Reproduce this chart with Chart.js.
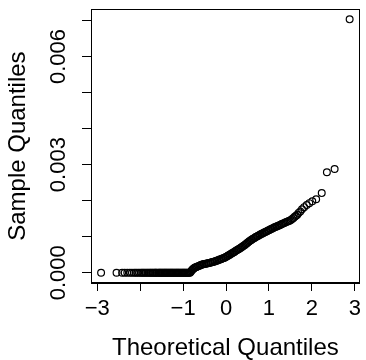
<!DOCTYPE html>
<html>
<head>
<meta charset="utf-8">
<script src="https://cdn.jsdelivr.net/npm/chart.js@4.4.0/dist/chart.umd.min.js"></script>
<style>
  html, body { margin: 0; padding: 0; background: #ffffff; }
  #wrap { width: 366px; height: 360px; position: relative; }
</style>
</head>
<body>
<div id="wrap"><canvas id="c" width="366" height="360"></canvas></div>
<script>
// Theoretical quantiles (x) and sample quantiles (y)
const theoretical = [
  -2.91, -2.55, -2.42, -2.36, -2.30, -2.24, -2.19, -2.14, -2.10, -2.06,
  -2.02, -1.98, -1.95, -1.92, -1.89, -1.86, -1.83, -1.80, -1.77, -1.75,
  -1.72, -1.70, -1.67, -1.65, -1.63, -1.61, -1.58, -1.56, -1.54, -1.52,
  -1.50, -1.48, -1.46, -1.44, -1.42, -1.40, -1.38, -1.36, -1.34, -1.32,
  -1.30, -1.28, -1.26, -1.24, -1.22, -1.20, -1.18, -1.16, -1.14, -1.12,
  -1.10, -1.08, -1.06, -1.04, -1.02, -1.00, -0.98, -0.96, -0.94, -0.92,
  -0.90, -0.88, -0.86, -0.84, -0.82, -0.80, -0.78, -0.76, -0.74, -0.72,
  -0.70, -0.68, -0.65, -0.62, -0.60, -0.57, -0.55, -0.52, -0.50, -0.47,
  -0.45, -0.42, -0.40, -0.37, -0.35, -0.32, -0.30, -0.27, -0.25, -0.22,
  -0.20, -0.17, -0.15, -0.12, -0.10, -0.07, -0.05, -0.02, 0.00, 0.03,
  0.05, 0.08, 0.10, 0.13, 0.15, 0.18, 0.20, 0.23, 0.25, 0.28,
  0.30, 0.33, 0.35, 0.38, 0.40, 0.43, 0.45, 0.48, 0.50, 0.53,
  0.55, 0.58, 0.60, 0.63, 0.65, 0.68, 0.70, 0.73, 0.75, 0.78,
  0.80, 0.83, 0.85, 0.88, 0.90, 0.93, 0.95, 0.98, 1.00, 1.03,
  1.05, 1.08, 1.10, 1.13, 1.15, 1.18, 1.20, 1.23, 1.25, 1.28,
  1.30, 1.33, 1.36, 1.39, 1.42, 1.45, 1.48, 1.51, 1.54, 1.57,
  1.60, 1.63, 1.66, 1.69, 1.73, 1.77, 1.82, 1.88, 1.94, 2.01,
  2.10, 2.23, 2.35, 2.53, 2.88
];
const sample = [
  0, 0, 0, 0, 0, 0, 0, 0, 0, 0,
  0, 0, 0, 0, 0, 0, 0, 0, 0, 0,
  0, 0, 0, 0, 0, 0, 0, 0, 0, 0,
  0, 0, 0, 0, 0, 0, 0, 0, 0, 0,
  0, 0, 0, 0, 0, 0, 0, 0, 0, 0,
  0, 0, 0, 0, 0, 0, 0, 0, 0, 0,
  0, 0, 0, 0, 0.00003, 0.00006, 0.00009, 0.00011, 0.00013, 0.000145,
  0.000155, 0.000165, 0.00018, 0.000195, 0.000205, 0.00022, 0.00023, 0.00024, 0.000245, 0.00025,
  0.000255, 0.000265, 0.00027, 0.00028, 0.000285, 0.000295, 0.0003, 0.00031, 0.00032, 0.00033,
  0.00034, 0.000355, 0.000365, 0.000375, 0.000385, 0.0004, 0.00041, 0.000425, 0.00044, 0.00046,
  0.000475, 0.000495, 0.00051, 0.000535, 0.00055, 0.00057, 0.000585, 0.00061, 0.000625, 0.000645,
  0.00066, 0.00068, 0.0007, 0.00072, 0.00074, 0.000765, 0.000785, 0.00081, 0.00083, 0.00086,
  0.00088, 0.0009, 0.00092, 0.000945, 0.00096, 0.00098, 0.000995, 0.00101, 0.001025, 0.001045,
  0.00106, 0.00108, 0.00109, 0.00111, 0.00112, 0.00114, 0.00115, 0.00117, 0.00118, 0.0012,
  0.00121, 0.00123, 0.00124, 0.00126, 0.00127, 0.001285, 0.001295, 0.00131, 0.00132, 0.001335,
  0.00135, 0.001365, 0.00138, 0.0014, 0.001415, 0.00143, 0.001445, 0.001465, 0.00149, 0.00152,
  0.00155, 0.00158, 0.00161, 0.00166, 0.0017, 0.00176, 0.00182, 0.00188, 0.00193, 0.00198,
  0.00204, 0.00221, 0.00279, 0.00288, 0.00703
];
// Tick labels shown on each axis
const xTickLabels = ['\u22123', '\u22121', '0', '1', '2', '3'];
const yTickLabels = ['0.000', '0.003', '0.006'];
const xTitle = 'Theoretical Quantiles';
const yTitle = 'Sample Quantiles';

const points = theoretical.map((t, i) => ({ x: t, y: sample[i] }));

const FONT = "'Liberation Sans', Arial, Helvetica, sans-serif";

const boxPlugin = {
  id: 'rbox',
  afterDraw(chart) {
    const a = chart.chartArea;
    const ctx = chart.ctx;
    ctx.save();
    ctx.strokeStyle = '#000';
    ctx.lineWidth = 1;
    ctx.strokeRect(Math.round(a.left) + 0.5, Math.round(a.top) + 0.5,
                   Math.round(a.right - a.left) - 1, Math.round(a.bottom - a.top) - 1);
    ctx.restore();
  }
};

new Chart(document.getElementById('c'), {
  type: 'scatter',
  data: {
    datasets: [{
      data: points,
      pointStyle: 'circle',
      pointRadius: 3.4,
      pointBorderWidth: 1.2,
      pointBorderColor: '#000',
      pointBackgroundColor: 'rgba(0,0,0,0)',
      showLine: false
    }]
  },
  options: {
    responsive: false,
    animation: false,
    events: [],
    layout: { padding: { top: 8, right: 2, left: 0, bottom: 0 } },
    plugins: { legend: { display: false }, tooltip: { enabled: false } },
    scales: {
      x: {
        type: 'linear',
        min: -3.145,
        max: 3.115,
        afterFit(s) { s.height = 77; },
        border: { display: true, color: '#000', width: 1 },
        grid: { drawOnChartArea: false, drawTicks: true, tickLength: 8, color: '#000', lineWidth: 1 },
        ticks: {
          stepSize: 1,
          includeBounds: false,
          autoSkip: false,
          maxRotation: 0,
          minRotation: 0,
          padding: 5,
          color: '#000',
          font: { family: FONT, size: 22 },
          callback(v) {
            const s = v < 0 ? '\u2212' + Math.abs(v) : String(v);
            return xTickLabels.includes(s) ? s : '';
          }
        },
        title: {
          display: true,
          text: xTitle,
          color: '#000',
          font: { family: FONT, size: 24, lineHeight: 1 },
          padding: { top: 0, bottom: 0 }
        }
      },
      y: {
        type: 'linear',
        min: -0.000285,
        max: 0.007312,
        afterFit(s) { s.width = 91; },
        border: { display: true, color: '#000', width: 1 },
        grid: { drawOnChartArea: false, drawTicks: true, tickLength: 9, color: '#000', lineWidth: 1 },
        ticks: {
          stepSize: 0.001,
          includeBounds: false,
          autoSkip: false,
          minRotation: 90,
          maxRotation: 90,
          crossAlign: 'center',
          padding: -4,
          color: '#000',
          font: { family: FONT, size: 22 },
          callback(v) {
            const s = Number(v).toFixed(3);
            return yTickLabels.includes(s) ? s : '';
          }
        },
        title: {
          display: true,
          text: yTitle,
          color: '#000',
          font: { family: FONT, size: 24, lineHeight: 1 },
          padding: { top: 6, bottom: 0 }
        }
      }
    }
  },
  plugins: [boxPlugin]
});
</script>
</body>
</html>
